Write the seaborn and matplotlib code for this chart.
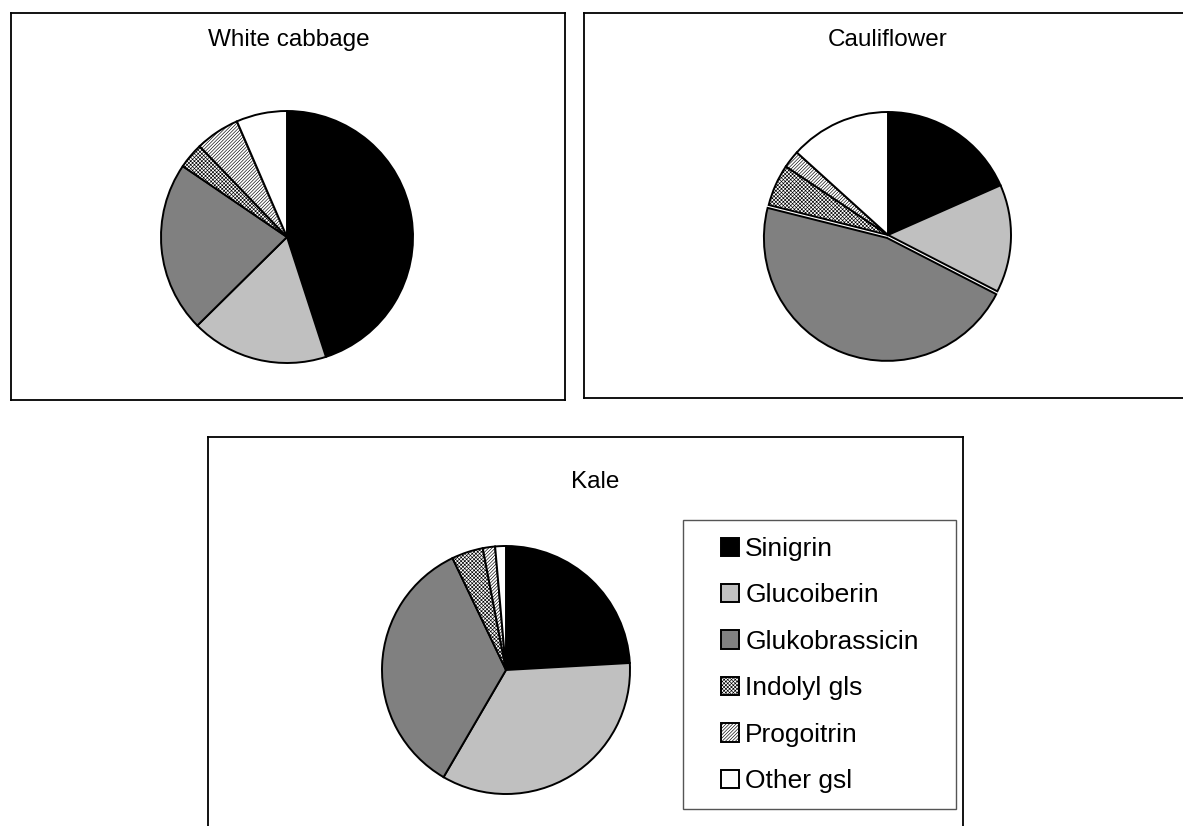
import numpy as np
import pandas as pd
import matplotlib
matplotlib.use("Agg")
import matplotlib.pyplot as plt
from matplotlib.patches import Patch, Rectangle
import seaborn as sns

# Glucosinolate composition (% of total)
compounds = ['Sinigrin', 'Glucoiberin', 'Glukobrassicin', 'Indolyl gls', 'Progoitrin', 'Other gsl']
white_cabbage = [45.0, 17.6, 21.9, 3.3, 5.7, 6.5]
cauliflower = [18.4, 14.2, 46.4, 5.5, 2.3, 13.3]
kale = [24.1, 34.3, 34.5, 4.1, 1.6, 1.4]

colors = ['#000000', '#c0c0c0', '#808080', '#ffffff', '#ffffff', '#ffffff']
hatches = [None, None, None, 'xxxxxxxxx', '//////////', None]

sns.set_theme(style="white")
plt.rcParams['font.family'] = ['Liberation Sans', 'DejaVu Sans']
plt.rcParams['text.color'] = 'black'
plt.rcParams['hatch.linewidth'] = 0.45

W, H = 1183, 826
fig = plt.figure(figsize=(W / 100, H / 100), dpi=100)
fig.patch.set_facecolor('white')


def px_rect(x, y, w, h):
    return [x / W, 1 - (y + h) / H, w / W, h / H]


def draw_box(x0, y0, x1, y1):
    ax = fig.add_axes(px_rect(x0, y0, x1 - x0, y1 - y0))
    ax.set_xticks([])
    ax.set_yticks([])
    for s in ax.spines.values():
        s.set_color('black')
        s.set_linewidth(1.3)
    ax.set_facecolor('none')
    return ax


def draw_pie(cx, cy, r, values, explode=None):
    ax = fig.add_axes(px_rect(cx - r, cy - r, 2 * r, 2 * r))
    df = pd.DataFrame({'compound': compounds, 'share': values})
    wedges, _ = ax.pie(df['share'], colors=colors, startangle=90, counterclock=False,
                       explode=explode, radius=1.0,
                       wedgeprops=dict(edgecolor='black', linewidth=1.4))
    for w, h in zip(wedges, hatches):
        if h:
            w.set_hatch(h)
        w.set_clip_on(False)
    ax.set_xlim(-1, 1)
    ax.set_ylim(-1, 1)
    ax.set_aspect('equal')
    ax.axis('off')
    return ax


# panel frames
draw_box(11, 13, 565, 400)
draw_box(584, 13, 1195, 398)
draw_box(208, 437, 963, 840)

# pies
draw_pie(287, 237, 126, white_cabbage)
draw_pie(888, 235, 123, cauliflower, explode=[0, 0, 0.025, 0, 0, 0])
draw_pie(506, 670, 124, kale)

# titles
fig.text(289 / W, 1 - 40 / H, 'White cabbage', ha='center', va='center', fontsize=17.5)
fig.text(888 / W, 1 - 40 / H, 'Cauliflower', ha='center', va='center', fontsize=17.5)
fig.text(595 / W, 1 - 482 / H, 'Kale', ha='center', va='center', fontsize=17.5)

# legend frame drawn separately so its padding matches
fig.patches.append(Rectangle((683 / W, 1 - 809 / H), (956 - 683) / W, (809 - 520) / H,
                             transform=fig.transFigure, facecolor='none',
                             edgecolor='#555555', linewidth=1.0))

handles = [Patch(facecolor=c, edgecolor='black', hatch=h, linewidth=1.4)
           for c, h in zip(colors, hatches)]
leg = fig.legend(handles, compounds, loc='upper left',
                 bbox_to_anchor=(721 / W, 1 - 537 / H), fontsize=19,
                 frameon=False, handlelength=0.7, handleheight=0.7,
                 handletextpad=0.22, labelspacing=0.85, borderpad=0,
                 borderaxespad=0)

plt.savefig('out.png', dpi=100, facecolor='white')
plt.close()
